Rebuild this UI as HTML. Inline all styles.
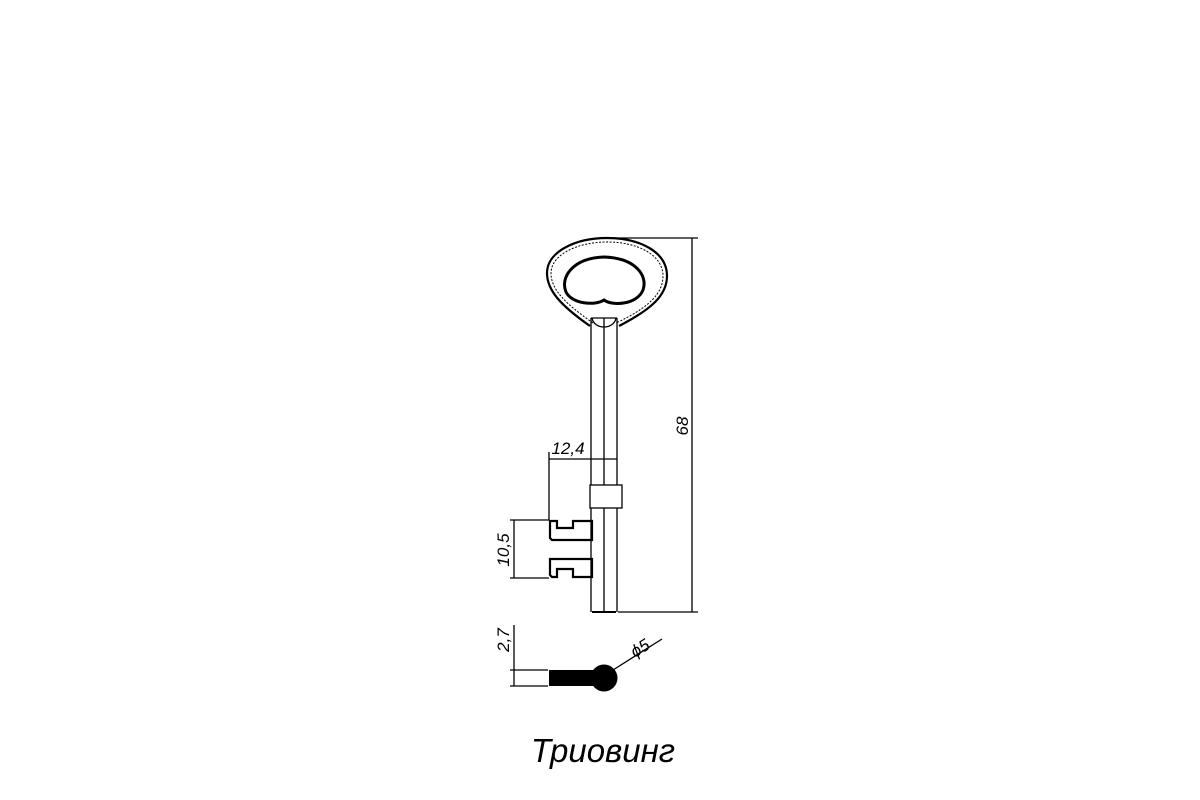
<!DOCTYPE html>
<html><head><meta charset="utf-8"><style>
html,body{margin:0;padding:0;background:#fff;}
svg{display:block;}
text{font-family:"Liberation Sans","DejaVu Sans",sans-serif;font-style:italic;fill:#000;}
</style></head><body>
<svg width="1200" height="800" viewBox="0 0 1200 800" xmlns="http://www.w3.org/2000/svg">
<g fill="none" stroke="#000" stroke-width="1.3">
<!-- head -->
<path d="M590,326 C560,305 547,290 547,273 C547,252 575,238 607,238 C640,238 667,252 667,276 C667,296 650,310 619,326" stroke-width="2.2"/>
<path d="M593,323 C566,304 551,290 551,273 C551,255 577,242 607,242 C638,242 663,255 663,276 C663,294 648,308 616,323" stroke-width="1" stroke-dasharray="2,1.5"/>
<path d="M604,300 C595,306 572,304 566,292 C560,278 572,258 604,257 C636,258 648,276 643,290 C637,305 612,306 604,300 Z" stroke-width="3"/>
<path d="M591,318 L591,612 M617,318 L617,612 M604,318 L604,612" />
<path d="M591,318 L617,318 M592,318 C594,330 614,330 616,318" />
<line x1="592" y1="612" x2="616" y2="612" stroke-width="2"/>
<!-- collar -->
<rect x="590" y="485" width="32" height="23" fill="#fff"/>
<!-- bits -->
<path d="M550,521 L557,521 L557,528 L573,528 L573,521 L592,521 L592,540 L552,540 L550,538 Z" stroke-width="2.2"/>
<path d="M550,559 L592,559 L592,577 L573,577 L573,569 L557,569 L557,577 L552,577 L550,575 Z" stroke-width="2.2"/>
<!-- dims -->
<path d="M607,238 L698,238 M618,612 L698,612 M692,238 L692,612"/>
<path d="M549,452 L549,520 M549,459 L617,459"/>
<path d="M510,520 L549,520 M510,578 L549,578 M514,520 L514,578"/>
<path d="M510,670 L548,670 M510,686 L548,686 M514,625 L514,686"/>
<path d="M613,670 L662,639"/>
</g>
<rect x="549" y="670" width="50" height="16" fill="#000"/>
<circle cx="604" cy="678" r="13.5" fill="#000"/>
<text x="568" y="454" font-size="17" text-anchor="middle">12,4</text>
<text transform="translate(688,426) rotate(-90)" font-size="17" text-anchor="middle">68</text>
<text transform="translate(509,550) rotate(-90)" font-size="17" text-anchor="middle">10,5</text>
<text transform="translate(509,640) rotate(-90)" font-size="17" text-anchor="middle">2,7</text>
<text transform="translate(643,653) rotate(-32)" font-size="17" text-anchor="middle">ϕ5</text>
<text x="603" y="762" font-size="33" text-anchor="middle">Триовинг</text>
</svg>
</body></html>
